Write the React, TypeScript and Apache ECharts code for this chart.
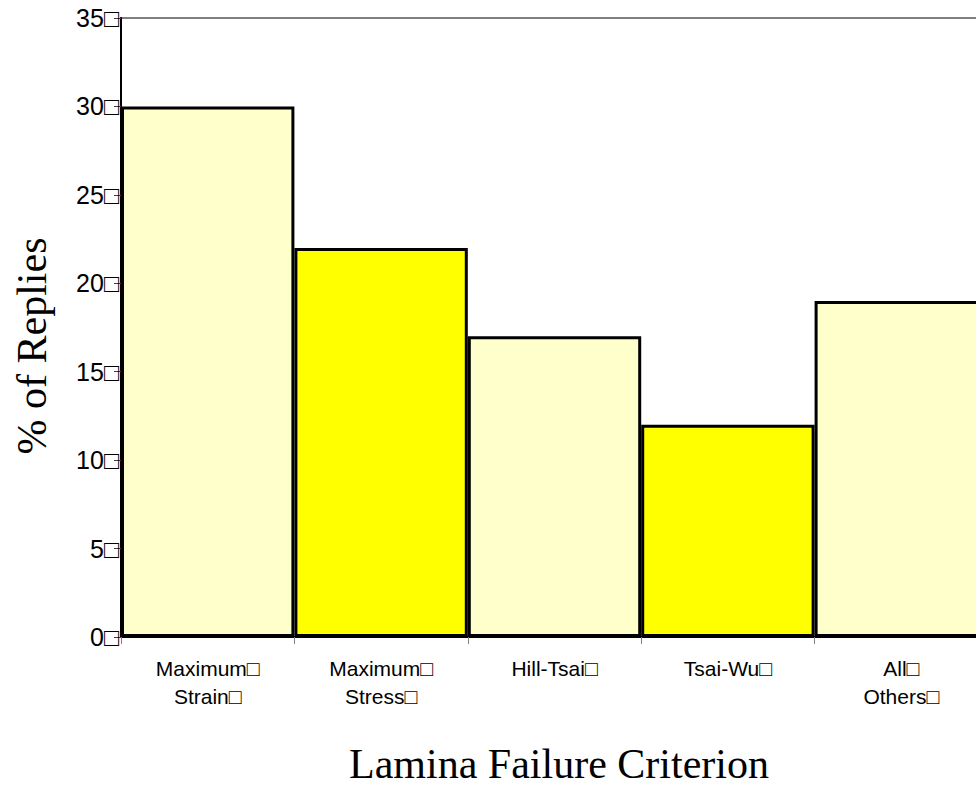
import React, { useEffect, useRef } from "react";
import * as echarts from "echarts";

const BOX = "\u25A1";
const categories = [
  "Maximum" + BOX + "\nStrain" + BOX,
  "Maximum" + BOX + "\nStress" + BOX,
  "Hill-Tsai" + BOX,
  "Tsai-Wu" + BOX,
  "All" + BOX + "\nOthers" + BOX,
];
const values = [30, 22, 17, 12, 19];
const barColors = ["#FFFFCC", "#FFFF00", "#FFFFCC", "#FFFF00", "#FFFFCC"];
const yMin = 0;
const yMax = 35;
const yInterval = 5;
const xTitle = "Lamina Failure Criterion";
const yTitle = "% of Replies";

export default function App() {
  const ref = useRef<HTMLDivElement>(null);
  useEffect(() => {
    if (!ref.current) return;
    const chart = echarts.init(ref.current, null, { renderer: "svg" });
    chart.setOption({
      animation: false,
      backgroundColor: "#ffffff",
      grid: {
        left: 121,
        top: 18,
        width: 867,
        height: 619,
        outerBoundsMode: "none",
        containLabel: false,
        show: true,
        borderColor: "#808080",
        borderWidth: 2,
        backgroundColor: "transparent",
      },
      xAxis: {
        type: "category",
        data: categories,
        axisLine: { show: true, lineStyle: { color: "#000000", width: 2 } },
        axisTick: { show: true, length: 7, lineStyle: { color: "#808080", width: 1 } },
        axisLabel: {
          interval: 0,
          margin: 17,
          fontFamily: "Liberation Sans",
          fontSize: 21,
          lineHeight: 28,
          color: "#000000",
        },
        splitLine: { show: false },
      },
      yAxis: {
        type: "value",
        min: yMin,
        max: yMax,
        interval: yInterval,
        axisLine: { show: true, lineStyle: { color: "#000000", width: 2 } },
        axisTick: { show: true, length: 7, lineStyle: { color: "#404040", width: 1 } },
        axisLabel: {
          margin: 2,
          fontFamily: "Liberation Sans",
          fontSize: 25,
          color: "#000000",
          formatter: (v: number) => v + BOX,
        },
        splitLine: { show: false },
      },
      series: [
        {
          type: "bar",
          barCategoryGap: "0%",
          data: values.map((v, i) => ({
            value: v,
            itemStyle: { color: barColors[i] },
          })),
          itemStyle: { borderColor: "#000000", borderWidth: 3 },
        },
      ],
      graphic: [
        {
          type: "text",
          x: 559,
          y: 764,
          style: {
            text: xTitle,
            fontFamily: "Liberation Serif",
            fontSize: 42,
            fill: "#000000",
            textAlign: "center",
            textVerticalAlign: "middle",
          },
        },
        {
          type: "text",
          x: 32,
          y: 346,
          rotation: Math.PI / 2,
          style: {
            text: yTitle,
            fontFamily: "Liberation Serif",
            fontSize: 42,
            fill: "#000000",
            textAlign: "center",
            textVerticalAlign: "middle",
          },
        },
      ],
    });
    return () => chart.dispose();
  }, []);
  return (
    <div
      ref={ref}
      style={{ position: "fixed", left: 0, top: 0, width: 976, height: 786, overflow: "hidden" }}
    />
  );
}
